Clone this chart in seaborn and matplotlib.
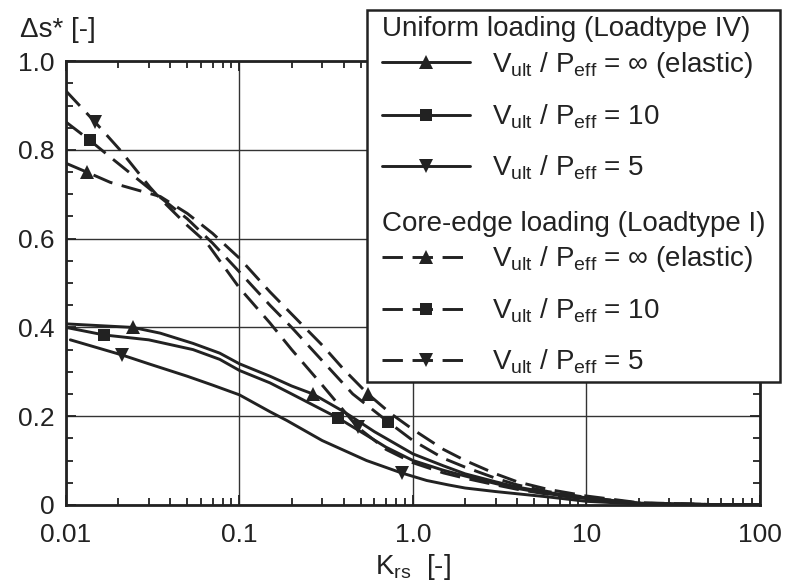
import numpy as np
import pandas as pd
import matplotlib
matplotlib.use("Agg")
import matplotlib.pyplot as plt
import seaborn as sns
from matplotlib.lines import Line2D
from matplotlib.patches import Rectangle
from matplotlib.ticker import FixedLocator, FixedFormatter, LogLocator, NullFormatter, MultipleLocator

# ---------------- data ----------------
S_inf_K = [0.01, 0.0243, 0.035, 0.054, 0.077, 0.1, 0.15, 0.2, 0.265, 0.4, 0.6, 1.0, 1.5, 2, 3, 4, 6, 10, 20, 50, 100]
S_inf_y = [0.408, 0.40, 0.387, 0.364, 0.342, 0.318, 0.29, 0.268, 0.25, 0.21, 0.165, 0.115, 0.088, 0.07, 0.052, 0.04, 0.028, 0.016, 0.004, 0.001, 0.0]
S_inf_mk = [1, 8]

S_10_K = [0.01, 0.0166, 0.03, 0.054, 0.077, 0.1, 0.15, 0.2, 0.37, 0.5, 0.7, 1.0, 1.5, 2, 3, 4, 6, 10, 20, 50, 100]
S_10_y = [0.40, 0.383, 0.372, 0.35, 0.328, 0.303, 0.275, 0.25, 0.196, 0.165, 0.13, 0.10, 0.078, 0.065, 0.048, 0.037, 0.025, 0.014, 0.003, 0.001, 0.0]
S_10_mk = [1, 8]

S_5_K = [0.0106, 0.021, 0.03, 0.05, 0.07, 0.1, 0.15, 0.188, 0.3, 0.54, 0.86, 1.2, 1.6, 2, 3, 4, 6, 10, 20, 50, 100]
S_5_y = [0.372, 0.338, 0.318, 0.29, 0.27, 0.248, 0.21, 0.19, 0.145, 0.10, 0.072, 0.055, 0.045, 0.038, 0.03, 0.025, 0.018, 0.008, 0.002, 0.0, 0.0]
S_5_mk = [1, 10]

D_inf_K = [0.01, 0.0132, 0.018, 0.035, 0.05, 0.07, 0.1, 0.15, 0.2, 0.3, 0.4, 0.55, 0.75, 1.0, 1.5, 2, 3, 4, 6, 10, 20, 50, 100]
D_inf_y = [0.77, 0.75, 0.727, 0.695, 0.657, 0.612, 0.556, 0.48, 0.43, 0.36, 0.305, 0.25, 0.205, 0.17, 0.125, 0.10, 0.07, 0.052, 0.035, 0.02, 0.005, 0.001, 0.0]
D_inf_mk = [1, 11]

D_10_K = [0.01, 0.0137, 0.018, 0.035, 0.05, 0.07, 0.1, 0.15, 0.2, 0.3, 0.45, 0.72, 1.0, 1.5, 2, 3, 4, 6, 10, 20, 50, 100]
D_10_y = [0.863, 0.822, 0.784, 0.693, 0.645, 0.59, 0.525, 0.45, 0.40, 0.325, 0.25, 0.187, 0.145, 0.105, 0.085, 0.06, 0.045, 0.03, 0.017, 0.004, 0.001, 0.0]
D_10_mk = [1, 11]

D_5_K = [0.01, 0.0147, 0.0205, 0.0305, 0.035, 0.05, 0.065, 0.1, 0.15, 0.2, 0.3, 0.48, 0.7, 1.0, 1.5, 2, 3, 4, 6, 10, 20, 50, 100]
D_5_y = [0.933, 0.863, 0.80, 0.716, 0.69, 0.63, 0.59, 0.489, 0.41, 0.35, 0.27, 0.175, 0.125, 0.095, 0.072, 0.06, 0.045, 0.035, 0.024, 0.013, 0.003, 0.0, 0.0]
D_5_mk = [1, 11]

x_ticks = [0.01, 0.1, 1, 10, 100]
x_tick_labels = ["0.01", "0.1", "1.0", "10", "100"]
y_ticks = [0, 0.2, 0.4, 0.6, 0.8, 1.0]
y_tick_labels = ["0", "0.2", "0.4", "0.6", "0.8", "1.0"]

title_uniform = "Uniform loading (Loadtype IV)"
title_core = "Core-edge loading (Loadtype I)"
labels = [r"V$_{\rm ult}$ / P$_{\rm eff}$ = ∞ (elastic)",
          r"V$_{\rm ult}$ / P$_{\rm eff}$ = 10",
          r"V$_{\rm ult}$ / P$_{\rm eff}$ = 5"]

# ---------------- style ----------------
sns.set_style("ticks")
plt.rcParams["font.family"] = ["Liberation Sans", "DejaVu Sans"]
plt.rcParams["mathtext.fontset"] = "custom"
plt.rcParams["mathtext.rm"] = "Liberation Sans"
plt.rcParams["mathtext.it"] = "Liberation Sans:italic"
plt.rcParams["axes.unicode_minus"] = False

INK = "#222222"
LW = 2.1
DASH = (0, (7.0, 3.3))

fig = plt.figure(figsize=(7.85, 5.83), dpi=100)
ax = fig.add_axes([0.084, 0.134, 0.884, 0.761])

series = [
    (S_inf_K, S_inf_y, S_inf_mk, "^", "-", 10.5),
    (S_10_K, S_10_y, S_10_mk, "s", "-", 9),
    (S_5_K, S_5_y, S_5_mk, "v", "-", 10.5),
    (D_inf_K, D_inf_y, D_inf_mk, "^", DASH, 10.5),
    (D_10_K, D_10_y, D_10_mk, "s", DASH, 9),
    (D_5_K, D_5_y, D_5_mk, "v", DASH, 10.5),
]
for K, y, mk, m, ls, ms in series:
    df = pd.DataFrame({"K": K, "y": y})
    sns.lineplot(data=df, x="K", y="y", ax=ax, color=INK, lw=LW, linestyle=ls,
                 marker=m, markersize=ms, markevery=mk, markeredgewidth=0,
                 estimator=None, sort=False, legend=False, zorder=4)

ax.set_xscale("log")
ax.set_xlim(0.01, 100)
ax.set_ylim(0, 1.0)
ax.xaxis.set_major_locator(FixedLocator(x_ticks))
ax.xaxis.set_major_formatter(FixedFormatter(x_tick_labels))
ax.xaxis.set_minor_locator(LogLocator(base=10, subs=np.arange(2, 10)))
ax.xaxis.set_minor_formatter(NullFormatter())
ax.yaxis.set_major_locator(FixedLocator(y_ticks))
ax.yaxis.set_major_formatter(FixedFormatter(y_tick_labels))
ax.yaxis.set_minor_locator(MultipleLocator(0.05))

ax.grid(True, which="major", color="#333333", lw=1.0)
ax.tick_params(which="both", direction="in", top=True, right=True, color=INK, width=1.3)
ax.tick_params(which="major", length=7, labelsize=19, labelcolor=INK)
ax.tick_params(axis="x", which="major", pad=13)
ax.tick_params(axis="y", which="major", pad=8)
ax.tick_params(which="minor", length=5)
for s in ax.spines.values():
    s.set_linewidth(2.0)
    s.set_color(INK)

ax.set_xlabel(r"K$_{\rm rs}$  [-]", fontsize=20, color=INK, labelpad=4)
ax.set_ylabel("Δs* [-]", fontsize=20, color=INK, rotation=0, ha="center", va="center")
ax.yaxis.set_label_coords(-0.012, 1.07)

# ---------------- legend ----------------
frame = Rectangle((0.4675, 0.3448), 0.526, 0.638, transform=fig.transFigure,
                  facecolor="white", edgecolor=INK, lw=1.8, zorder=3)
fig.add_artist(frame)

def handles_for(ls):
    return [Line2D([], [], color=INK, lw=LW, linestyle=ls, marker=m, markersize=ms, markeredgewidth=0)
            for m, ms in (("^", 10.5), ("s", 9), ("v", 10.5))]

common = dict(loc="upper left", frameon=False, fontsize=20, title_fontsize=20,
              alignment="left", handlelength=3.16, handletextpad=0.8,
              labelspacing=0.81, borderpad=0, borderaxespad=0)
leg1 = fig.legend(handles_for("-"), labels, title=title_uniform,
                  bbox_to_anchor=(0.487, 0.972), **common)
leg2 = fig.legend(handles_for(DASH), labels, title=title_core,
                  bbox_to_anchor=(0.487, 0.6385), **common)
for lg in (leg1, leg2):
    lg.set_zorder(5)
    lg._legend_box.sep = 5.5
    for t in lg.get_texts():
        t.set_color(INK)
    lg.get_title().set_color(INK)

fig.savefig("out.png", dpi=100)
